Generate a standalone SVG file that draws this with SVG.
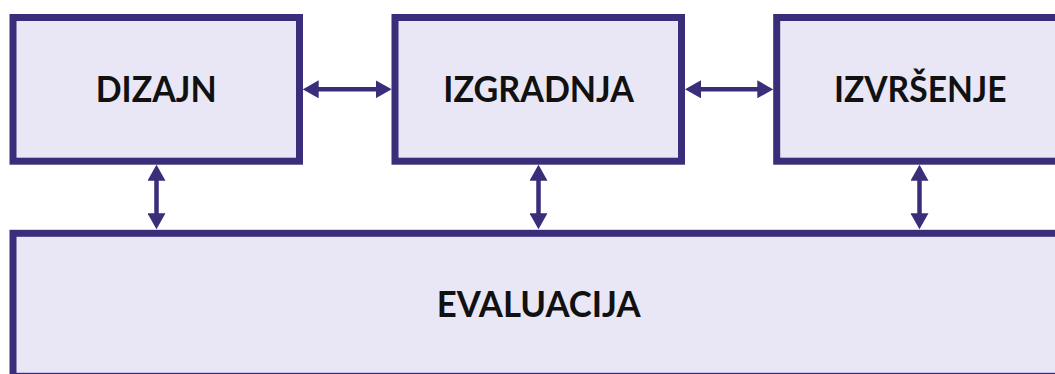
<svg xmlns="http://www.w3.org/2000/svg" width="1055" height="374" viewBox="0 0 1055 374">
  <style>
    .box { fill: #e9e7f6; stroke: #3a2d7a; stroke-width: 7; }
    .lbl { font-family: Lato, "Open Sans", "Liberation Sans", sans-serif; font-weight: bold; font-size: 36px; fill: #111111; text-anchor: middle; }
    .conn { stroke: #3a2d7a; stroke-width: 4.5; fill: none; marker-start: url(#ah); marker-end: url(#ah); }
  </style>
  <defs>
    <marker id="ah" viewBox="0 0 16 18" refX="6" refY="9" markerWidth="16" markerHeight="18" markerUnits="userSpaceOnUse" orient="auto-start-reverse">
      <path d="M0,0 L16,9 L0,18 Z" fill="#3a2d7a"/>
    </marker>
  </defs>
  <rect width="1055" height="374" fill="#ffffff"/>
  <g id="evaluacija">
    <rect class="box" x="13" y="233.3" width="1100" height="143"/>
    <text class="lbl" x="538.7" y="317.3" textLength="204" lengthAdjust="spacingAndGlyphs">EVALUACIJA</text>
  </g>
  <g id="dizajn">
    <rect class="box" x="13" y="17.5" width="286.5" height="143.7"/>
    <text class="lbl" x="156.2" y="101.7" textLength="121" lengthAdjust="spacingAndGlyphs">DIZAJN</text>
  </g>
  <g id="izgradnja">
    <rect class="box" x="395" y="17.5" width="286.5" height="143.7"/>
    <text class="lbl" x="538.7" y="101.7" textLength="190.7" lengthAdjust="spacingAndGlyphs">IZGRADNJA</text>
  </g>
  <g id="izvrsenje">
    <rect class="box" x="776.7" y="17.5" width="286.5" height="143.7"/>
    <text class="lbl" x="920.3" y="101.7" textLength="172.7" lengthAdjust="spacingAndGlyphs">IZVRŠENJE</text>
  </g>
  <g id="connectors">
    <line class="conn" x1="312.7" y1="89.3" x2="381.7" y2="89.3"/>
    <line class="conn" x1="695" y1="89.3" x2="763.3" y2="89.3"/>
    <line class="conn" x1="156.5" y1="174.7" x2="156.5" y2="219.3"/>
    <line class="conn" x1="538.5" y1="174.7" x2="538.5" y2="219.3"/>
    <line class="conn" x1="919.5" y1="174.7" x2="919.5" y2="219.3"/>
  </g>
</svg>
